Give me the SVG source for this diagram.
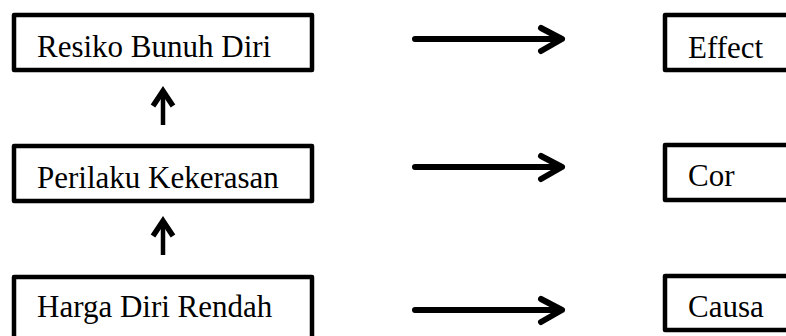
<svg xmlns="http://www.w3.org/2000/svg" width="786" height="336" viewBox="0 0 786 336">
<style>
.box{fill:#fff;stroke:#000;stroke-width:4.5;stroke-linejoin:round}
.lbl{font-family:"Liberation Serif","Times New Roman",serif;font-size:31px;fill:#000}
.h{stroke:#000;stroke-width:6;fill:none;stroke-linecap:round;stroke-linejoin:round}
.v{stroke:#000;stroke-width:4.5;fill:none;stroke-linecap:butt;stroke-linejoin:miter}
.vh{stroke:#000;stroke-width:5.5;fill:none;stroke-linecap:butt;stroke-linejoin:miter}
</style>
<rect width="786" height="336" fill="#fff"/>
<g id="resiko"><rect class="box" x="14" y="15" width="298" height="55"/><text class="lbl" x="37" y="57">Resiko Bunuh Diri</text></g>
<g id="perilaku"><rect class="box" x="14" y="146" width="298" height="55"/><text class="lbl" x="37" y="188">Perilaku Kekerasan</text></g>
<g id="harga"><rect class="box" x="14" y="277" width="298" height="70"/><text class="lbl" x="37" y="317">Harga Diri Rendah</text></g>
<g id="effect"><rect class="box" x="665" y="15" width="140" height="55"/><text class="lbl" x="688" y="58">Effect</text></g>
<g id="cor"><rect class="box" x="665" y="145" width="140" height="55"/><text class="lbl" x="688" y="186">Cor</text></g>
<g id="causa"><rect class="box" x="665" y="276" width="140" height="54"/><text class="lbl" x="688" y="317">Causa</text></g>
<g id="connectors">
<path class="h" d="M415 39H561M541 28L562 39L541 51"/>
<path class="h" d="M415 167H561M541 156L562 167L541 179"/>
<path class="h" d="M415 310H561M541 299L562 310L541 322"/>
<path class="v" d="M163 125V92"/><path class="vh" d="M153 106L163 91L173 106"/>
<path class="v" d="M163 255V222"/><path class="vh" d="M153 236L163 221L173 236"/>
</g>
</svg>
